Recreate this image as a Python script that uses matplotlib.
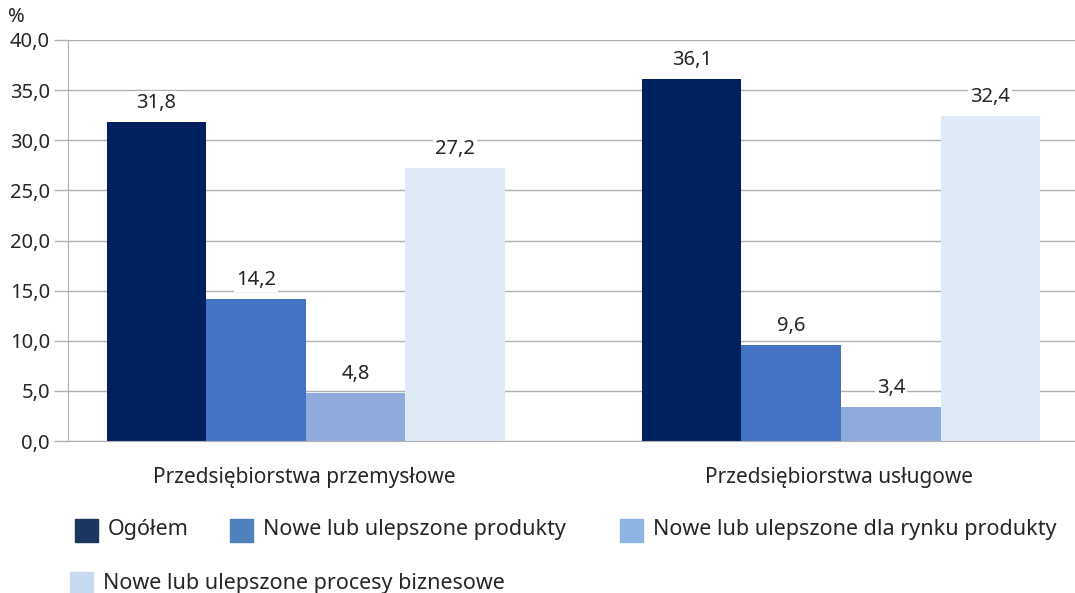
import numpy as np
import matplotlib
matplotlib.use("Agg")
import matplotlib.pyplot as plt
from matplotlib.patches import Rectangle

plt.rcParams['font.family'] = ['Noto Sans', 'DejaVu Sans']

categories = ['Przedsiębiorstwa przemysłowe', 'Przedsiębiorstwa usługowe']
series = ['Ogółem', 'Nowe lub ulepszone produkty',
          'Nowe lub ulepszone dla rynku produkty',
          'Nowe lub ulepszone procesy biznesowe']
ogolem = [31.8, 36.1]
produkty = [14.2, 9.6]
rynek = [4.8, 3.4]
procesy = [27.2, 32.4]

bar_colors = ['#002060', '#4472c4', '#8faadc', '#deeaf6']
legend_colors = ['#1b365f', '#4f81bd', '#8eb4e3', '#c6d9f1']
text_col = '#262626'
grid_col = '#b0b0b0'

fig = plt.figure(figsize=(10.75, 5.93), dpi=100)
ax = fig.add_axes([68/1075, 1-441/593, 1007/1075, 401/593])

x = np.arange(len(categories))
w = 0.186
values = [ogolem, produkty, rynek, procesy]
for i, vals in enumerate(values):
    pos = x + (i - 1.5) * w + 0.003
    ax.bar(pos, vals, width=w, color=bar_colors[i], zorder=2)
    for p, v in zip(pos, vals):
        ax.text(p, v + 0.9, f'{v:.1f}'.replace('.', ','), ha='center', va='bottom',
                fontsize=14.5, color=text_col, zorder=3,
                bbox=dict(facecolor='white', edgecolor='none', pad=1.5))

ax.set_xlim(-0.441, 1.44)
ax.set_ylim(0, 40)
ax.set_yticks(np.arange(0, 41, 5))
ax.set_yticklabels([f'{t:.1f}'.replace('.', ',') for t in np.arange(0, 41, 5)],
                   fontsize=14.5, color=text_col)
ax.yaxis.grid(True, color=grid_col, linewidth=1, zorder=0)
ax.set_axisbelow(True)
ax.tick_params(axis='y', length=10, color=grid_col, width=1, pad=3)
ax.tick_params(axis='x', length=0, pad=19)
ax.set_xticks(x)
ax.set_xticklabels(categories, fontsize=15, color=text_col)
for s in ['top', 'right']:
    ax.spines[s].set_visible(False)
ax.spines['left'].set_color(grid_col)
ax.spines['bottom'].set_color(grid_col)

fig.text(8/1075, 1-17/593, '%', fontsize=14.5, color=text_col, va='center')

# legend placed by hand
leg = [(75, 530), (230, 530), (620, 530), (70, 583)]
for (lx, ly), lab, c in zip(leg, series, legend_colors):
    fig.patches.append(Rectangle((lx/1075, 1-(ly+12)/593), 23/1075, 23/593,
                                 transform=fig.transFigure, color=c))
    fig.text((lx+33)/1075, 1-ly/593, lab, fontsize=15.5, color=text_col, va='center')

fig.savefig('out.png', dpi=100)
